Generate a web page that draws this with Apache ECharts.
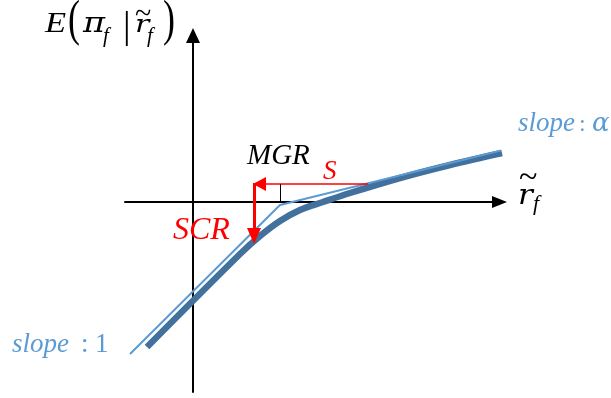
<!DOCTYPE html>
<html>
<head>
<meta charset="utf-8">
<script src="https://cdn.jsdelivr.net/npm/echarts@6/dist/echarts.min.js"></script>
<style>html,body{margin:0;padding:0;background:#fff;}#c{width:611px;height:398px;}</style>
</head>
<body>
<div id="c"></div>
<script>
// Conceptual curve data (units: abstract, origin at axes crossing)
const thinX = [-6.3, 8.7, 32.2];
const thinY = [-15.2, -0.3, 5.5];
const thickX = [-4.6, 4.7, 6.7, 8.7, 10.7, 13.0, 15.7, 20.7, 25.7, 30.9];
const thickY = [-14.5, -5.2, -3.4, -1.9, -0.8, 0.0, 0.9, 2.4, 3.7, 4.9];
// Annotations: S arrow (horizontal), SCR arrow (vertical), MGR tick
const sArrowX = [17.5, 6.65];
const sArrowY = [1.8, 1.8];
const scrArrowX = [6.1, 6.1];
const scrArrowY = [1.9, -3.4];
const mgrTickX = [8.7, 8.7];
const mgrTickY = [1.8, 0.0];

const THIN = '#5B9BD5', THICK = '#41719C', RED = '#FF0000';
const LIB = 'Liberation Serif', DJV = 'DejaVu Serif';

function pairs(xs, ys) { return xs.map((x, i) => [x, ys[i]]); }

// text helper: x = left edge, b = baseline
function T(text, x, b, size, o) {
  o = o || {};
  return {
    type: 'text', x: x, y: b - 0.3 * size * (o.sy || 1), z: 100, silent: true,
    scaleX: o.sx || 1, scaleY: o.sy || 1,
    style: {
      text: text, fill: o.color || '#000',
      font: (o.italic === false ? '' : 'italic ') + size + 'px "' + (o.family || LIB) + '"',
      align: 'left', verticalAlign: 'middle'
    }
  };
}

function arrowSeries(xs, ys, color, width, endSymbol, symSize) {
  const p = pairs(xs, ys);
  return {
    type: 'line', data: [], silent: true, animation: false,
    markLine: {
      silent: true, animation: false,
      symbol: ['none', endSymbol], symbolSize: symSize,
      label: { show: false },
      lineStyle: { color: color, width: width, type: 'solid' },
      emphasis: { disabled: true },
      data: [[{ coord: p[0] }, { coord: p[1] }]]
    }
  };
}

const chart = echarts.init(document.getElementById('c'), null, { renderer: 'canvas' });
chart.setOption({
  animation: false,
  backgroundColor: '#fff',
  grid: { left: 125, right: 111.5, top: 35.5, bottom: 6, containLabel: false },
  xAxis: {
    type: 'value', min: -6.8, max: 30.65,
    axisLine: { show: true, onZero: true, symbol: ['none', 'triangle'], symbolSize: [12, 15],
      lineStyle: { color: '#000', width: 2 } },
    axisTick: { show: false }, axisLabel: { show: false }, splitLine: { show: false }
  },
  yAxis: {
    type: 'value', min: -19, max: 16.65,
    axisLine: { show: true, onZero: true, symbol: ['none', 'triangle'], symbolSize: [14, 15],
      lineStyle: { color: '#000', width: 2 } },
    axisTick: { show: false }, axisLabel: { show: false }, splitLine: { show: false }
  },
  series: [
    { type: 'line', data: pairs(thickX, thickY), smooth: 0.35, symbol: 'none', clip: false, z: 2,
      lineStyle: { color: THICK, width: 6.5, cap: 'butt' } },
    { type: 'line', data: pairs(thinX, thinY), symbol: 'none', clip: false, z: 3,
      lineStyle: { color: THIN, width: 2 } },
    arrowSeries(sArrowX, sArrowY, RED, 1.5, 'triangle', [14, 13]),
    arrowSeries(scrArrowX, scrArrowY, RED, 3, 'triangle', [14, 16]),
    arrowSeries(mgrTickX, mgrTickY, '#000', 1, 'none', 1)
  ],
  graphic: [
    // y-axis title E(π_f | r̃_f)
    T('E', 45, 33, 30, { sx: 1.15 }),
    T('(', 68, 37, 50, { italic: false, sx: 0.72 }),
    T('π', 83, 33, 28, { family: DJV, sx: 1.2 }),
    T('f', 103, 43, 21),
    T('|', 123, 39, 38, { italic: false }),
    T('r', 135, 33, 25, { family: DJV, sx: 1.2 }),
    T('~', 135, 24, 30, { italic: false }),
    T('f', 147, 43, 21),
    T(')', 163, 37, 50, { italic: false, sx: 0.72 }),
    // x-axis title r̃_f
    T('r', 518, 205, 27, { family: DJV, sx: 1.15 }),
    T('~', 519, 188, 34, { italic: false }),
    T('f', 533, 211, 22),
    // annotations
    T('MGR', 247, 165, 29),
    T('S', 323, 180, 27, { color: RED }),
    T('SCR', 173, 240, 32, { color: RED }),
    T('slope', 518, 132, 27, { color: THIN }),
    T(':', 579, 132, 24, { color: THIN, italic: false }),
    T('α', 592, 132, 26, { color: THIN, family: DJV }),
    T('slope', 12, 353, 27, { color: THIN }),
    T(':', 81, 353, 27, { color: THIN, italic: false }),
    T('1', 95, 353, 27, { color: THIN, italic: false })
  ]
});
</script>
</body>
</html>
